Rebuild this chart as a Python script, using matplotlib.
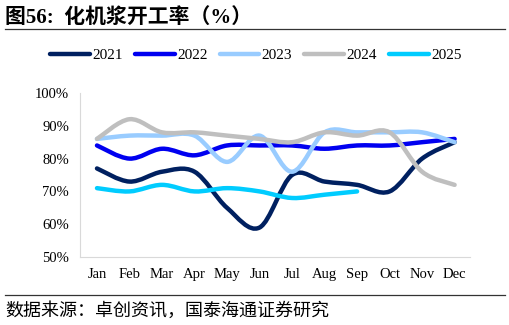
import matplotlib
matplotlib.use("Agg")
import matplotlib.pyplot as plt
import numpy as np
from matplotlib.path import Path
from matplotlib.patches import PathPatch
from matplotlib.lines import Line2D

plt.rcParams['font.family'] = ['Liberation Serif', 'Noto Sans CJK SC', 'DejaVu Sans']

months = ["Jan", "Feb", "Mar", "Apr", "May", "Jun", "Jul", "Aug", "Sep", "Oct", "Nov", "Dec"]
y2021 = [77, 73, 76, 76, 65, 59, 75, 73, 72, 70, 80, 85]
y2022 = [84, 80, 83, 81, 84, 84, 84, 83, 84, 84, 85, 86]
y2023 = [86, 87, 87, 87, 79, 87, 76, 88, 88, 88, 88, 85]
y2024 = [86, 92, 88, 88, 87, 86, 85, 88, 87, 88, 76, 72]
y2025 = [71, 70, 72, 70, 71, 70, 68, 69, 70]

series = [
    ("2021", y2021, "#002060"),
    ("2022", y2022, "#0000F0"),
    ("2023", y2023, "#99CCFF"),
    ("2024", y2024, "#BFBFBF"),
    ("2025", y2025, "#00CCFF"),
]


def smooth_path(xs, ys):
    # cubic bezier through the points (catmull-rom style tangents)
    pts = np.column_stack([xs, ys]).astype(float)
    n = len(pts)
    verts = [pts[0]]
    codes = [Path.MOVETO]
    for i in range(n - 1):
        p0 = pts[i - 1] if i > 0 else pts[i]
        p1 = pts[i]
        p2 = pts[i + 1]
        p3 = pts[i + 2] if i + 2 < n else pts[i + 1]
        c1 = p1 + (p2 - p0) / 6.0
        c2 = p2 - (p3 - p1) / 6.0
        verts += [c1, c2, p2]
        codes += [Path.CURVE4] * 3
    return Path(verts, codes)


fig = plt.figure(figsize=(5.1, 3.25), dpi=100)
ax = fig.add_axes([0.157, 0.209, 0.765, 0.505])

for name, vals, col in series:
    x = np.arange(len(vals))
    patch = PathPatch(smooth_path(x, vals), facecolor="none", edgecolor=col,
                      lw=3.2, capstyle="round", joinstyle="round")
    ax.add_patch(patch)

ax.set_xlim(-0.52, 11.48)
ax.set_ylim(50, 100)
ax.set_xticks(range(12))
ax.set_xticklabels(months)
ax.set_yticks(range(50, 101, 10))
ax.set_yticklabels([f"{v}%" for v in range(50, 101, 10)])
ax.tick_params(length=0, labelsize=10.5, colors="black", pad=8)
for s in ["top", "right"]:
    ax.spines[s].set_visible(False)
for s in ["left", "bottom"]:
    ax.spines[s].set_color("#D9D9D9")
    ax.spines[s].set_linewidth(0.8)

handles = [Line2D([], [], color=c, lw=3.2, solid_capstyle="round") for _, _, c in series]
fig.legend(handles, [n for n, _, _ in series], loc="center", ncol=5,
           bbox_to_anchor=(0.502, 0.83), frameon=False, fontsize=11,
           handlelength=2.6, handletextpad=0.15, columnspacing=0.8)

fig.text(0.01, 0.945, "图56:  化机浆开工率（%）", fontsize=15, fontweight="bold",
         va="center", ha="left")
fig.add_artist(Line2D([0.01, 0.99], [0.91, 0.91], color="#333333", lw=0.9))
fig.add_artist(Line2D([0.01, 0.99], [0.092, 0.092], color="#333333", lw=0.9))
fig.text(0.01, 0.045, "数据来源：卓创资讯，国泰海通证券研究", fontsize=13,
         va="center", ha="left", family=["Noto Sans CJK SC", "DejaVu Sans"])

fig.savefig("out.png", dpi=100)
